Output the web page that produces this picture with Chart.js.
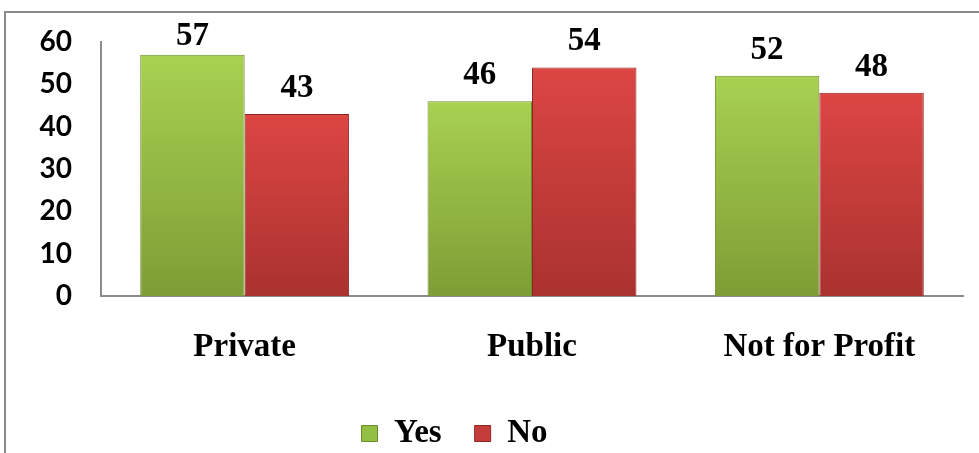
<!DOCTYPE html>
<html>
<head>
<meta charset="utf-8">
<script src="https://cdn.jsdelivr.net/npm/chart.js@4"></script>
<style>
  html, body { margin: 0; padding: 0; background: #fff; }
  #wrap { position: relative; width: 979px; height: 453px; overflow: hidden; }
  #frame { position: absolute; left: 4px; top: 11px; width: 1000px; height: 500px;
           border-left: 2px solid #8a8a8a; border-top: 2px solid #8a8a8a; }
  canvas { position: absolute; left: 0; top: 0; }
</style>
</head>
<body>
<div id="wrap">
  <div id="frame"></div>
  <canvas id="barChart" width="979" height="453"></canvas>
</div>
<script>
const categories = ['Private', 'Public', 'Not for Profit'];
const yesValues = [57, 46, 52];
const noValues = [43, 54, 48];
const yTicks = [0, 10, 20, 30, 40, 50, 60];

// vertical gradient per bar, from the bar top down to the axis
function barFill(top, bottom) {
  return function(context) {
    const chart = context.chart;
    const y = chart.scales && chart.scales.y;
    if (!chart.chartArea || !y || context.raw === undefined) return top;
    const g = chart.ctx.createLinearGradient(0, y.getPixelForValue(context.raw), 0, y.getPixelForValue(0));
    g.addColorStop(0, top);
    g.addColorStop(1, bottom);
    return g;
  };
}

// numbers above each bar (kept inside the frame like the original)
const valueLabels = {
  id: 'valueLabels',
  afterDatasetsDraw(chart) {
    const ctx = chart.ctx;
    ctx.save();
    ctx.font = 'bold 33px "Liberation Serif"';
    ctx.fillStyle = '#000';
    ctx.textAlign = 'center';
    ctx.textBaseline = 'alphabetic';
    chart.data.datasets.forEach((ds, i) => {
      chart.getDatasetMeta(i).data.forEach((bar, j) => {
        const base = Math.max(bar.y - 17, chart.chartArea.top + 3);
        ctx.fillText(ds.data[j], bar.x, base);
      });
    });
    ctx.restore();
  }
};

// nudge the legend to where the original sits
const legendShift = {
  id: 'legendShift',
  afterLayout(chart) {
    const lg = chart.legend;
    lg.left -= 27; lg.right -= 27;
    lg.top += 7; lg.bottom += 7;
  }
};

let ctx = document.getElementById('barChart').getContext('2d');
let barChart = new Chart(ctx, {
  type: 'bar',
  data: {
    labels: categories,
    datasets: [{
      label: 'Yes',
      data: yesValues,
      backgroundColor: barFill('#a8d151', '#7e9d35'),
      borderColor: '#6f8c2c',
      borderWidth: 1,
      legendColor: '#94bf45'
    }, {
      label: 'No',
      data: noValues,
      backgroundColor: barFill('#dc4643', '#aa322f'),
      borderColor: '#8e2622',
      borderWidth: 1,
      legendColor: '#c53d3a'
    }]
  },
  options: {
    responsive: false,
    animation: false,
    layout: { padding: { top: 42, right: 16, left: 0, bottom: 0 } },
    categoryPercentage: 0.727,
    barPercentage: 1,
    plugins: {
      tooltip: { enabled: false },
      legend: {
        position: 'bottom',
        labels: {
          boxWidth: 16,
          boxHeight: 16,
          padding: 33,
          color: '#000',
          font: { family: '"Liberation Serif"', size: 33, weight: 'bold' },
          generateLabels(chart) {
            return chart.data.datasets.map((ds, i) => ({
              text: ds.label,
              fillStyle: ds.legendColor,
              strokeStyle: ds.borderColor,
              lineWidth: 1,
              hidden: false,
              datasetIndex: i,
              fontColor: '#000'
            }));
          }
        }
      }
    },
    scales: {
      x: {
        grid: { display: false },
        border: { display: true, color: '#8c8c8c', width: 2 },
        ticks: {
          color: '#000',
          padding: 24,
          font: { family: '"Liberation Serif"', size: 33, weight: 'bold' }
        },
        afterFit(scale) { scale.height = 81; }
      },
      y: {
        min: 0,
        max: 60,
        grid: { display: false },
        border: { display: true, color: '#8c8c8c', width: 2 },
        afterBuildTicks(scale) { scale.ticks = yTicks.map(v => ({ value: v })); },
        ticks: {
          color: '#000',
          padding: 21,
          font: { family: 'Lato', size: 28, weight: 'bold' }
        },
        afterFit(scale) { scale.width = 101; }
      }
    }
  },
  plugins: [valueLabels, legendShift]
});
</script>
</body>
</html>
